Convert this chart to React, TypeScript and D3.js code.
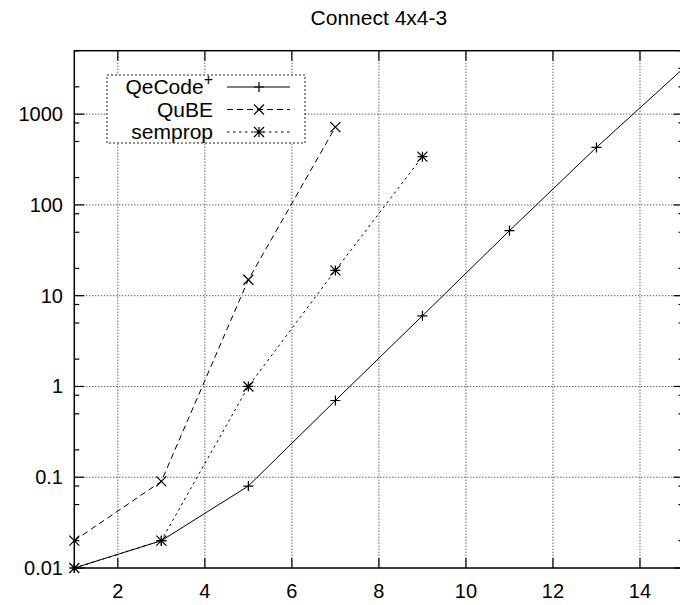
import { useEffect, useRef } from 'react';
import * as d3 from 'd3';

const chartTitle = 'Connect 4x4-3';

// x = instance size, y = time (s), log scale
const qecodeX = [1, 3, 5, 7, 9, 11, 13, 15];
const qecodeY = [0.01, 0.02, 0.08, 0.7, 6, 52, 430, 3200];
const qubeX = [1, 3, 5, 7];
const qubeY = [0.02, 0.09, 15, 720];
const sempropX = [1, 3, 5, 7, 9];
const sempropY = [0.01, 0.02, 1.0, 19, 340];

const xTicks = [2, 4, 6, 8, 10, 12, 14];
const yTicks = [0.01, 0.1, 1, 10, 100, 1000];
const yTickLabels = ['0.01', '0.1', '1', '10', '100', '1000'];
const yMinorSteps = [2, 5, 8];

const FONT = '"Liberation Sans", Arial, Helvetica, sans-serif';

type Pt = [number, number];

const App = () => {
  const svgRef = useRef<SVGSVGElement>(null);

  useEffect(() => {
    if (!svgRef.current) return;
    const svg = d3.select(svgRef.current);
    svg.selectAll('*').remove();

    const width = 680;
    const height = 605;
    // plot box (right border sits just outside the picture)
    const left = 74.3;
    const right = 683.5;
    const top = 50.7;
    const bottom = 568;

    const x = d3.scaleLinear().domain([1, 15]).range([left, right]);
    const y = d3.scaleLog().domain([0.01, 5000]).range([bottom, top]);

    svg.append('rect').attr('width', width).attr('height', height).attr('fill', 'white');

    // title
    svg
      .append('text')
      .attr('x', (left + right) / 2)
      .attr('y', 25)
      .attr('text-anchor', 'middle')
      .attr('font-family', FONT)
      .attr('font-size', 21)
      .text(chartTitle);

    // grid
    const grid = svg.append('g').attr('stroke', '#222').attr('stroke-width', 1).attr('stroke-dasharray', '1,2');
    xTicks.forEach((t) => {
      grid.append('line').attr('x1', x(t)).attr('x2', x(t)).attr('y1', top).attr('y2', bottom);
    });
    yTicks.slice(1).forEach((t) => {
      grid.append('line').attr('x1', left).attr('x2', right).attr('y1', y(t)).attr('y2', y(t));
    });

    // ticks (mirrored, inward)
    const ticks = svg.append('g').attr('stroke', 'black').attr('stroke-width', 1.2);
    const majorLen = 10;
    const minorLen = 5;
    xTicks.forEach((t) => {
      ticks.append('line').attr('x1', x(t)).attr('x2', x(t)).attr('y1', bottom).attr('y2', bottom - majorLen);
      ticks.append('line').attr('x1', x(t)).attr('x2', x(t)).attr('y1', top).attr('y2', top + majorLen);
    });
    yTicks.forEach((t) => {
      ticks.append('line').attr('x1', left).attr('x2', left + majorLen).attr('y1', y(t)).attr('y2', y(t));
      ticks.append('line').attr('x1', right).attr('x2', right - majorLen).attr('y1', y(t)).attr('y2', y(t));
      yMinorSteps.forEach((m) => {
        const v = t * m;
        if (v > 5000) return;
        ticks.append('line').attr('x1', left).attr('x2', left + minorLen).attr('y1', y(v)).attr('y2', y(v));
        ticks.append('line').attr('x1', right).attr('x2', right - minorLen).attr('y1', y(v)).attr('y2', y(v));
      });
    });

    // tick labels
    const labels = svg.append('g').attr('font-family', FONT).attr('font-size', 20).attr('fill', 'black');
    xTicks.forEach((t) => {
      labels.append('text').attr('x', x(t)).attr('y', 598).attr('text-anchor', 'middle').text(String(t));
    });
    yTicks.forEach((t, i) => {
      labels
        .append('text')
        .attr('x', 63)
        .attr('y', y(t))
        .attr('dy', '0.35em')
        .attr('text-anchor', 'end')
        .text(yTickLabels[i]);
    });

    // series
    const line = d3
      .line<Pt>()
      .x((d) => x(d[0]))
      .y((d) => y(d[1]));

    const markerPath = (kind: string, cx: number, cy: number, s = 5) => {
      const plus = `M${cx - s},${cy}H${cx + s}M${cx},${cy - s}V${cy + s}`;
      const cross = `M${cx - s},${cy - s}L${cx + s},${cy + s}M${cx - s},${cy + s}L${cx + s},${cy - s}`;
      if (kind === 'plus') return plus;
      if (kind === 'cross') return cross;
      return plus + cross;
    };

    const series = [
      { name: 'QeCode', xs: qecodeX, ys: qecodeY, dash: null as string | null, marker: 'plus' },
      { name: 'QuBE', xs: qubeX, ys: qubeY, dash: '6,4', marker: 'cross' },
      { name: 'semprop', xs: sempropX, ys: sempropY, dash: '2.5,3.5', marker: 'star' },
    ];

    const plot = svg.append('g');
    series.forEach((s) => {
      const pts: Pt[] = s.xs.map((v, i) => [v, s.ys[i]]);
      const p = plot
        .append('path')
        .attr('d', line(pts) as string)
        .attr('fill', 'none')
        .attr('stroke', 'black')
        .attr('stroke-width', 1);
      if (s.dash) p.attr('stroke-dasharray', s.dash);
      pts.forEach((d) => {
        plot
          .append('path')
          .attr('d', markerPath(s.marker, x(d[0]), y(d[1])))
          .attr('stroke', 'black')
          .attr('stroke-width', 1.2)
          .attr('fill', 'none');
      });
    });

    // border
    svg
      .append('rect')
      .attr('x', left)
      .attr('y', top)
      .attr('width', right - left)
      .attr('height', bottom - top)
      .attr('fill', 'none')
      .attr('stroke', 'black')
      .attr('stroke-width', 1.5);

    // legend
    const lg = svg.append('g');
    lg.append('rect')
      .attr('x', 107)
      .attr('y', 75)
      .attr('width', 198)
      .attr('height', 68)
      .attr('fill', 'white')
      .attr('stroke', '#222')
      .attr('stroke-width', 1)
      .attr('stroke-dasharray', '2,2');
    series.forEach((s, i) => {
      const ly = 87 + i * 22.5;
      const t = lg
        .append('text')
        .attr('x', 213)
        .attr('y', ly)
        .attr('dy', '0.35em')
        .attr('text-anchor', 'end')
        .attr('font-family', FONT)
        .attr('font-size', 21);
      if (s.name === 'QeCode') {
        t.append('tspan').text('QeCode');
        t.append('tspan').attr('font-size', 16).attr('dy', '-0.6em').text('+');
      } else {
        t.text(s.name);
      }
      const l = lg
        .append('line')
        .attr('x1', 227)
        .attr('x2', 290)
        .attr('y1', ly)
        .attr('y2', ly)
        .attr('stroke', 'black')
        .attr('stroke-width', 1);
      if (s.dash) l.attr('stroke-dasharray', s.dash);
      lg.append('path')
        .attr('d', markerPath(s.marker, 259, ly))
        .attr('stroke', 'black')
        .attr('stroke-width', 1.2)
        .attr('fill', 'none');
    });
  }, []);

  return (
    <svg
      ref={svgRef}
      width={680}
      height={605}
      style={{ position: 'absolute', left: 0, top: 0, display: 'block' }}
    />
  );
};

export default App;
